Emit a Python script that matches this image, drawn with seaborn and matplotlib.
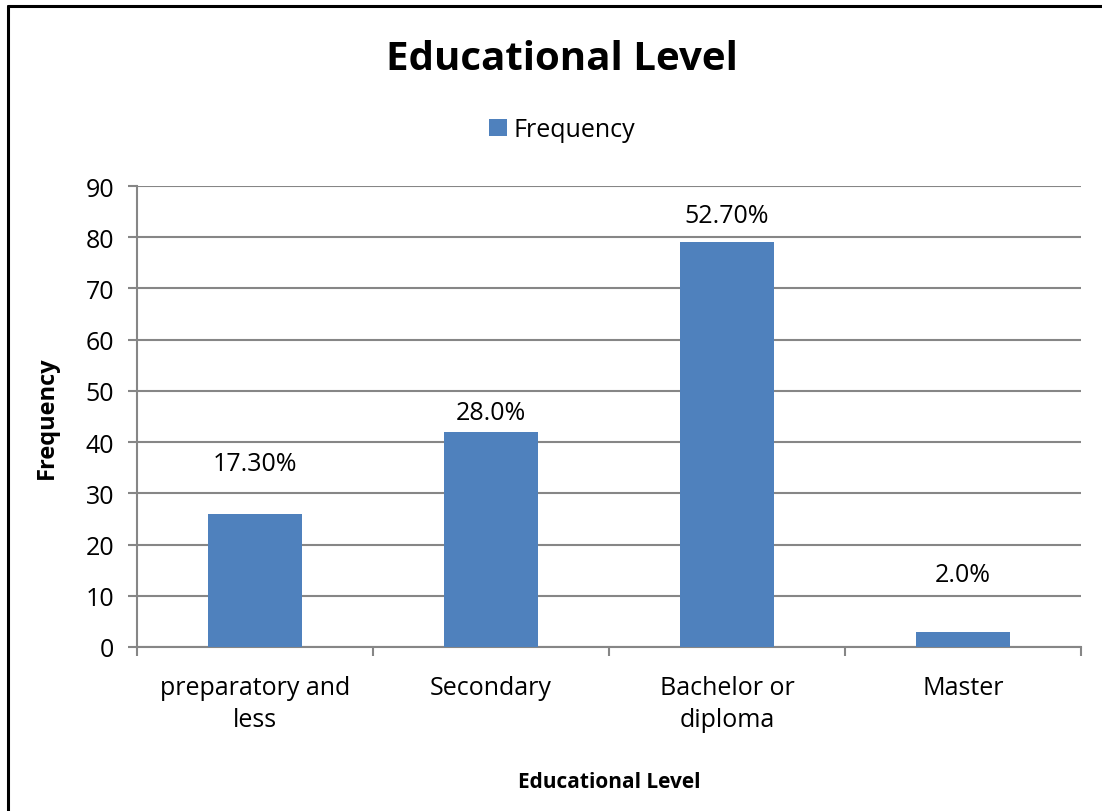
import matplotlib
matplotlib.use("Agg")
import matplotlib.pyplot as plt
from matplotlib.lines import Line2D
import seaborn as sns

categories = ["preparatory and\nless", "Secondary", "Bachelor or\ndiploma", "Master"]
frequency = [26, 42, 79, 3]
percent_labels = ["17.30%", "28.0%", "52.70%", "2.0%"]
y_ticks = [0, 10, 20, 30, 40, 50, 60, 70, 80, 90]

# vertical offsets (points) of the percentage labels above each bar
label_offsets = [36, 14, 19, 41]

sns.set_theme(style="white")
plt.rcParams["font.family"] = ["Open Sans", "DejaVu Sans"]
plt.rcParams["text.color"] = "black"
plt.rcParams["axes.labelcolor"] = "black"
plt.rcParams["xtick.color"] = "black"
plt.rcParams["ytick.color"] = "black"

bar_color = "#4F81BD"
grid_color = "#868686"
base_size = 18

fig = plt.figure(figsize=(11.02, 8.12), dpi=100)
ax = fig.add_axes([0.1243, 0.2020, 0.8566, 0.5677])

sns.barplot(x=categories, y=frequency, color=bar_color, width=0.4,
            saturation=1, ax=ax, label="Frequency", zorder=3, linewidth=0)

ax.set_ylim(0, 90)
ax.set_xlim(-0.5, len(categories) - 0.5)
ax.set_yticks(y_ticks)
ax.yaxis.grid(True, color=grid_color, linewidth=1.5, zorder=0)
ax.set_axisbelow(True)

for side in ["top", "right"]:
    ax.spines[side].set_visible(False)
for side in ["left", "bottom"]:
    ax.spines[side].set_color(grid_color)
    ax.spines[side].set_linewidth(1.5)

ax.tick_params(axis="y", which="major", direction="out", length=6.5, width=1.5,
               color=grid_color, labelcolor="black", labelsize=base_size,
               pad=10, left=True)
ax.tick_params(axis="x", which="major", length=0, labelsize=base_size,
               labelcolor="black", pad=20)
ax.set_xticks([i - 0.5 for i in range(len(categories) + 1)], minor=True)
ax.tick_params(axis="x", which="minor", direction="out", length=6.5, width=1.5,
               color=grid_color, bottom=True)
for lbl in ax.get_xticklabels():
    lbl.set_linespacing(1.4)

for i, (val, txt) in enumerate(zip(frequency, percent_labels)):
    ax.annotate(txt, xy=(i, val), xytext=(0, label_offsets[i]),
                textcoords="offset points", ha="center", va="center",
                fontsize=base_size, color="black")

ax.set_ylabel("Frequency", fontsize=17, fontweight="bold", color="black")
ax.yaxis.set_label_coords(-0.0953, 0.5)
ax.yaxis.label.set_va("center")
ax.set_xlabel("Educational Level", fontsize=15, fontweight="bold", color="black")
ax.xaxis.set_label_coords(0.5, -0.2915)
ax.xaxis.label.set_va("center")

fig.text(0.5095, 0.927, "Educational Level", ha="center", va="center",
         fontsize=29, fontweight="bold", color="black")

ax.legend(loc="center", bbox_to_anchor=(0.510, 0.8387),
          bbox_transform=fig.transFigure, frameon=False, fontsize=base_size,
          handlelength=0.7, handleheight=0.7, handletextpad=0.25)

# chart-area frame (left and top edges)
fig.add_artist(Line2D([0.0073, 0.0073], [0, 0.9917], transform=fig.transFigure,
                      color="black", linewidth=2.2))
fig.add_artist(Line2D([0.0073, 1.0], [0.9917, 0.9917], transform=fig.transFigure,
                      color="black", linewidth=2.2))

fig.savefig("out.png", dpi=100)
